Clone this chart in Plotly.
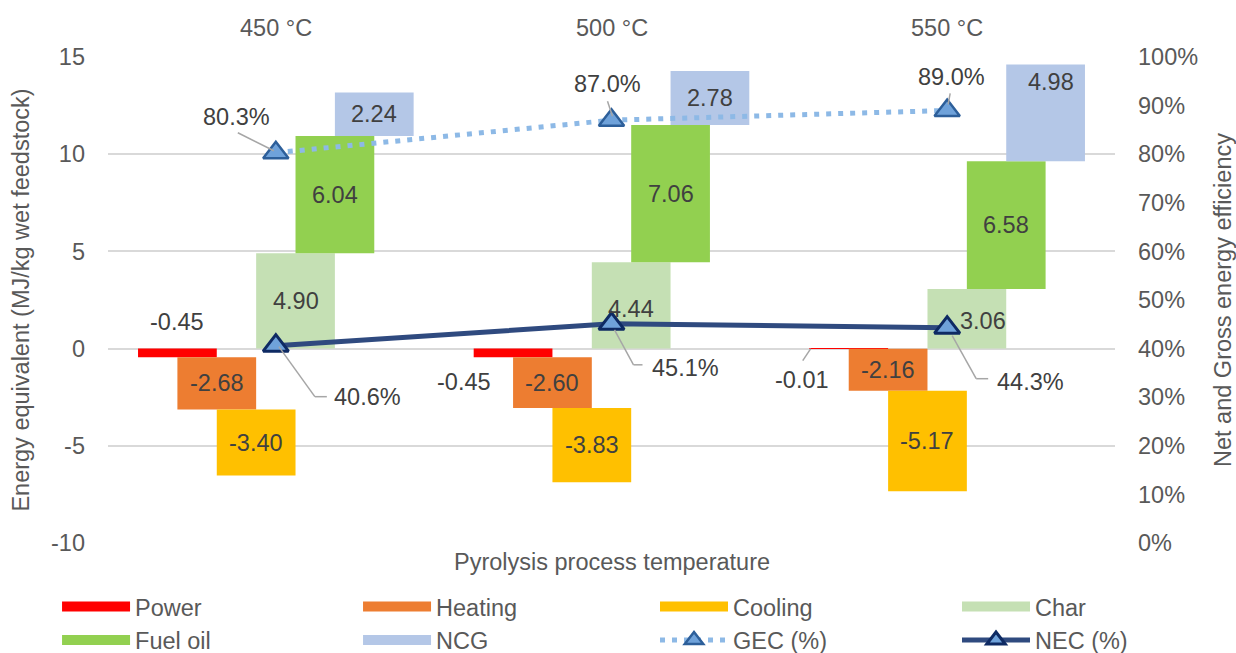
import plotly.graph_objects as go

# ---- data -------------------------------------------------------------
temperatures = ["450 °C", "500 °C", "550 °C"]
power = [-0.45, -0.45, -0.01]
heating = [-2.68, -2.60, -2.16]
cooling = [-3.40, -3.83, -5.17]
char = [4.90, 4.44, 3.06]
fuel_oil = [6.04, 7.06, 6.58]
ncg = [2.24, 2.78, 4.98]
gec_pct = [80.3, 87.0, 89.0]
nec_pct = [40.6, 45.1, 44.3]
energy_ticks = [-10, -5, 0, 5, 10, 15]

# ---- styling ----------------------------------------------------------
FONT = "Liberation Sans, Arial, sans-serif"
LABEL_COLOR = "#404040"
AXIS_COLOR = "#595959"
GRID = "#D9D9D9"
FS = 23.5

group_x = [i + 0.5 for i in range(len(temperatures))]
step = 0.1173          # spacing between the floating bars of one group
bar_w = 2 * step

def running(base_list, vals_list):
    return [b + v for b, v in zip(base_list, vals_list)]

zeros = [0.0] * len(temperatures)
power_base = zeros
heating_base = running(power_base, power)
cooling_base = running(heating_base, heating)
char_base = zeros
fuel_base = running(char_base, char)
ncg_base = running(fuel_base, fuel_oil)

# name, values, bases, colour, slot within group, legend column
series = [
    ("Power", power, power_base, "#FF0000", -2.5, "legend"),
    ("Heating", heating, heating_base, "#ED7D31", -1.5, "legend2"),
    ("Cooling", cooling, cooling_base, "#FFC000", -0.5, "legend3"),
    ("Char", char, char_base, "#C5E0B4", 0.5, "legend4"),
    ("Fuel oil", fuel_oil, fuel_base, "#92D050", 1.5, "legend"),
    ("NCG", ncg, ncg_base, "#B4C7E7", 2.5, "legend2"),
]

# label nudges (pixels) for labels that sit away from the bar centre
label_shift = {
    ("Power", 0): (0, 27, "top"),
    ("Power", 1): (-49, -29, "center"),
    ("Power", 2): (-47, -31, "center"),
    ("Char", 1): (0, -4, "center"),
    ("Char", 2): (16, -2, "center"),
    ("NCG", 2): (5, 31, "center"),
}

fig = go.Figure()
annotations = []

for name, vals, base, color, k, _ in series:
    xs = [g + k * step for g in group_x]
    fig.add_trace(go.Bar(
        x=xs, y=vals, base=base, width=bar_w,
        marker=dict(color=color, line=dict(width=0)),
        name=name, showlegend=False, hoverinfo="skip",
    ))
    for i, (x, v, b) in enumerate(zip(xs, vals, base)):
        dx, dy, mode = label_shift.get((name, i), (0, 0, "center"))
        y = 0 if mode == "top" else b + v / 2
        annotations.append(dict(
            x=x, y=y, xref="x", yref="y", text=f"{v:.2f}", showarrow=False,
            xshift=dx, yshift=dy, font=dict(size=FS, color=LABEL_COLOR, family=FONT),
        ))

# legend entries drawn as wide swatches
for name, vals, base, color, k, leg in series:
    fig.add_trace(go.Scatter(
        x=[None], y=[None], mode="lines", name=name, legend=leg,
        line=dict(color=color, width=13), hoverinfo="skip",
    ))

fig.add_trace(go.Scatter(
    x=group_x, y=gec_pct, yaxis="y2", name="GEC (%)", legend="legend3",
    mode="lines+markers",
    line=dict(color="#8DB9E6", width=5, dash="5px,7px"),
    marker=dict(symbol="triangle-up", size=22, color="#6FA2DA",
                line=dict(color="#2D5F9A", width=2.5)),
    hoverinfo="skip",
))
fig.add_trace(go.Scatter(
    x=group_x, y=nec_pct, yaxis="y2", name="NEC (%)", legend="legend4",
    mode="lines+markers",
    line=dict(color="#2F4A7F", width=5),
    marker=dict(symbol="triangle-up", size=22, color="#6FA2DA",
                line=dict(color="#0E2A63", width=3)),
    hoverinfo="skip",
))

# percentage labels (pixel offsets from the marker) and their leader lines
pct_layout = {
    "gec": [(-39, 36), (-4, 36), (4, 33)],
    "nec": [(92, -51), (74, -44), (83, -54)],
}
leaders = {
    "gec": [[(-38, 20), (-2, 2)], [(-4, 19), (1, 4)], [(3, 17), (1, 6)]],
    "nec": [[(3, -1), (39, -51), (51, -51)],
            [(3, -6), (22, -41), (31, -41)],
            [(5, -8), (29, -51), (41, -51)]],
}
shapes = []
for key, vals in (("gec", gec_pct), ("nec", nec_pct)):
    for i, (x, v) in enumerate(zip(group_x, vals)):
        dx, dy = pct_layout[key][i]
        annotations.append(dict(
            x=x, y=v, xref="x", yref="y2", text=f"{v:.1f}%", showarrow=False,
            xshift=dx, yshift=dy, font=dict(size=FS, color=LABEL_COLOR, family=FONT),
        ))
        pts = leaders[key][i]
        for (x0, y0), (x1, y1) in zip(pts[:-1], pts[1:]):
            shapes.append(dict(
                type="line", xref="x", yref="y2", xsizemode="pixel", ysizemode="pixel",
                xanchor=x, yanchor=v, x0=x0, y0=y0, x1=x1, y1=y1,
                line=dict(color="#A6A6A6", width=1.5), layer="above",
            ))

# leader line of the small power value at 550 °C
px_550 = group_x[2] - 2.5 * step
shapes.append(dict(
    type="line", xref="x", yref="y", xsizemode="pixel", ysizemode="pixel",
    xanchor=px_550, yanchor=0, x0=-38, y0=0, x1=-46, y1=-12,
    line=dict(color="#A6A6A6", width=1.5), layer="above",
))

# temperature category labels above the plot area
for x, t in zip(group_x, temperatures):
    annotations.append(dict(
        x=x, y=1, xref="x", yref="paper", text=t, showarrow=False,
        yanchor="middle", yshift=29, font=dict(size=FS, color=AXIS_COLOR, family=FONT),
    ))

annotations.append(dict(
    x=0.5, y=-0.04, xref="paper", yref="paper", text="Pyrolysis process temperature",
    showarrow=False, yanchor="middle", font=dict(size=FS, color=AXIS_COLOR, family=FONT),
))

def legend_column(x):
    # one two-row column of the legend; x in plot-area fractions
    return dict(
        orientation="v", xref="paper", yref="container",
        x=x, xanchor="left", y=0.1046, yanchor="top", itemwidth=68,
        font=dict(size=FS, color=AXIS_COLOR, family=FONT),
        traceorder="normal", bgcolor="rgba(0,0,0,0)", tracegroupgap=0,
    )

fig.update_layout(
    width=1236, height=653,
    margin=dict(l=108, r=121, t=57, b=110, autoexpand=False),
    paper_bgcolor="white", plot_bgcolor="white",
    font=dict(family=FONT, size=FS, color=AXIS_COLOR),
    barmode="overlay",
    xaxis=dict(
        range=[0, 3], showticklabels=False, automargin=False,
        showgrid=False, zeroline=False, showline=False, ticks="",
    ),
    yaxis=dict(
        range=[-10, 15], tickvals=energy_ticks, ticktext=[str(t) for t in energy_ticks],
        automargin=False, showgrid=True, gridcolor=GRID, gridwidth=1.5,
        zeroline=True, zerolinecolor=GRID, zerolinewidth=1.5, showline=False, ticks="",
        ticklabelstandoff=22, tickfont=dict(size=FS, color=AXIS_COLOR),
        title=dict(text="Energy equivalent (MJ/kg wet feedstock)", standoff=14,
                   font=dict(size=FS, color=AXIS_COLOR)),
    ),
    yaxis2=dict(
        range=[0, 100], dtick=10, overlaying="y", side="right", showgrid=False,
        automargin=False, zeroline=False, showline=False, ticks="", ticksuffix="%",
        ticklabelstandoff=22, tickfont=dict(size=FS, color=AXIS_COLOR),
        title=dict(text="Net and Gross energy efficiency", standoff=17,
                   font=dict(size=FS, color=AXIS_COLOR)),
    ),
    legend=legend_column(-0.0506),
    legend2=legend_column(0.2483),
    legend3=legend_column(0.5432),
    legend4=legend_column(0.8431),
    annotations=annotations,
    shapes=shapes,
)

fig.write_html("out.html")
